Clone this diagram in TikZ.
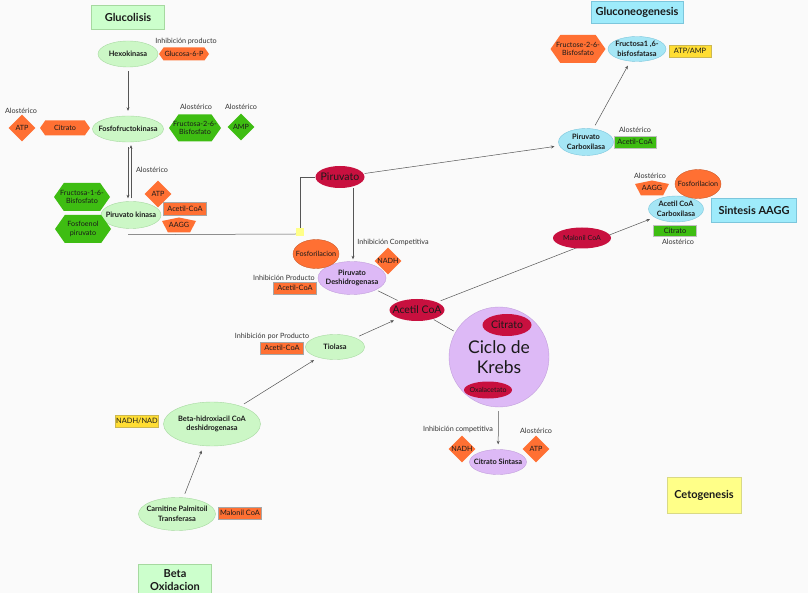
\documentclass[tikz,border=0pt]{standalone}
\usepackage{fontspec}
\setmainfont{Lato}
\usetikzlibrary{shapes.geometric,shapes.symbols,arrows.meta}

\definecolor{fondo}{HTML}{FAFAFA}
\definecolor{verdef}{HTML}{CCF7C6}
\definecolor{verdeb}{HTML}{A6D9A0}
\definecolor{azulf}{HTML}{A5E6F5}
\definecolor{azulb}{HTML}{7CC6DC}
\definecolor{moradof}{HTML}{DDB9F6}
\definecolor{moradob}{HTML}{C29FDC}
\definecolor{carmin}{HTML}{C8103F}
\definecolor{naranja}{HTML}{FF7033}
\definecolor{verdeo}{HTML}{3EBD12}
\definecolor{amarillo}{HTML}{FFDD33}
\definecolor{amarillop}{HTML}{FFFF88}
\definecolor{titverde}{HTML}{CCFFCC}
\definecolor{titazul}{HTML}{9EEBFB}
\definecolor{linea}{HTML}{555555}
\definecolor{texto}{HTML}{1A1A1A}
\definecolor{gris}{HTML}{333333}

\begin{document}
\begin{tikzpicture}[x=1pt,y=-1pt,
  every node/.style={inner sep=0pt,text=texto},
  ajuste/.style={inner sep=-30pt},
  enz/.style 2 args={ellipse,ajuste,minimum width=#1pt,minimum height=#2pt,align=center,font=\fontsize{7.4}{9.5}\selectfont\bfseries},
  enzg/.style={draw=verdeb,fill=verdef},
  enzb/.style={draw=azulb,fill=azulf},
  enzp/.style={draw=moradob,fill=moradof},
  mol/.style 2 args={ellipse,ajuste,fill=carmin,minimum width=#1pt,minimum height=#2pt,font=\fontsize{10.5}{12}\selectfont},
  fosf/.style={ellipse,ajuste,fill=naranja,draw=naranja!80!black,minimum width=46pt,minimum height=29pt,font=\fontsize{7.2}{8}\selectfont},
  hexa/.style 2 args={signal,ajuste,signal to=west and east,signal pointer angle=110,minimum width=#1pt,minimum height=#2pt,align=center,font=\fontsize{7.2}{8.5}\selectfont},
  rombo/.style={diamond,ajuste,aspect=1,minimum width=27pt,minimum height=27pt,font=\fontsize{7.2}{8}\selectfont},
  caja/.style 2 args={rectangle,minimum width=#1pt,minimum height=#2pt,font=\fontsize{7.4}{8}\selectfont},
  pent/.style={minimum width=34pt,minimum height=15pt,font=\fontsize{7.2}{8}\selectfont,
    path picture={\fill[naranja] (path picture bounding box.north) -- ([yshift=4pt]path picture bounding box.east)
      -- ([xshift=-6pt]path picture bounding box.south east) -- ([xshift=6pt]path picture bounding box.south west)
      -- ([yshift=4pt]path picture bounding box.west) -- cycle;}},
  titulo/.style 2 args={rectangle,minimum width=#1pt,minimum height=#2pt,align=center,font=\fontsize{11}{12.5}\selectfont\bfseries},
  lab/.style={font=\fontsize{7.2}{8}\selectfont,text=gris},
  link/.style={draw=linea,line width=0.5pt,shorten <=4pt,shorten >=5pt},
  arr/.style={link,-{Stealth[length=3.5pt,width=3pt]}}]
\useasboundingbox[fill=fondo] (0,0) rectangle (808,593);

\node[titulo={73}{24},fill=titverde,draw=verdeb] (tglu) at (128,17) {Glucolisis};
\node[titulo={92}{22},fill=titazul,draw=azulb] (tgneo) at (637,12) {Gluconeogenesis};
\node[titulo={85}{24},fill=titazul,draw=azulb] (taagg) at (754,210) {Sintesis AAGG};
\node[titulo={74}{36},fill=amarillop,draw=amarillop!70!gray] (tceto) at (704,495) {Cetogenesis};
\node[titulo={73}{32},fill=titverde,draw=verdeb] (tbeta) at (175,580) {Beta\\Oxidacion};

\node[enz={60}{26},enzg] (hexo) at (128,54) {Hexokinasa};
\node[enz={71}{26},enzg] (pfk) at (128,129) {Fosfofructokinasa};
\node[enz={60}{27},enzg] (pk) at (131,215) {Piruvato kinasa};
\node[enz={58}{25},enzb] (fbp) at (637,49) {Fructosa1 ,6-\\bisfosfatasa};
\node[enz={55}{27},enzb] (pcarb) at (586,142) {Piruvato\\Carboxilasa};
\node[enz={55}{26},enzb] (accarb) at (676,209) {Acetil CoA\\Carboxilasa};
\node[enz={68}{33},enzp] (pdh) at (352,278) {Piruvato\\Deshidrogenasa};
\node[enz={57}{25},enzp] (csint) at (498,462) {Citrato Sintasa};
\node[enz={59}{25},enzg] (tiol) at (335,347) {Tiolasa};
\node[enz={97}{44},enzg] (bhad) at (212,424) {Beta-hidroxiacil CoA\\deshidrogenasa};
\node[enz={77}{33},enzg] (cpt) at (177,514) {Carnitine Palmitoil\\Transferasa};
\node[circle,ajuste,enzp,minimum size=100pt,align=center,font=\fontsize{17.5}{20}\selectfont] (krebs) at (499,357) {Ciclo de\\Krebs};

\node[mol={49}{22}] (piru) at (340,177) {Piruvato};
\node[mol={55}{22}] (acoa) at (417,310) {Acetil CoA};
\node[mol={49}{22}] (citr) at (507,325) {Citrato};
\node[mol={48}{17},font=\fontsize{7}{8}\selectfont] (oxal) at (488,390) {Oxalacetato};
\node[fosf] (fos1) at (698,184) {Fosforilacion};
\node[fosf] (fos2) at (316,254) {Fosforilacion};

\node[hexa={50}{13},fill=naranja] (g6p) at (184,54) {Glucosa-6-P};
\node[hexa={50}{15},fill=naranja] (citr1) at (65,128) {Citrato};
\node[hexa={52}{27},fill=verdeo] (f26b) at (195,128) {Fructosa-2-6-\\Bisfosfato};
\node[hexa={56}{28},fill=verdeo] (f16b) at (82,197) {Fructosa-1-6-\\Bisfosfato};
\node[hexa={56}{28},fill=verdeo] (pep) at (83,229) {Fosfoenol\\piruvato};
\node[hexa={55}{28},fill=naranja] (f26bn) at (578,49) {Fructose-2-6-\\Bisfosfato};

\node[rombo,fill=naranja] (atp1) at (22,128) {ATP};
\node[rombo,fill=verdeo] (amp) at (241,127) {AMP};
\node[rombo,fill=naranja] (atp2) at (158,194) {ATP};
\node[rombo,fill=naranja] (nadh1) at (388,261) {NADH};
\node[rombo,fill=naranja] (nadh2) at (462,449) {NADH};
\node[rombo,fill=naranja] (atp3) at (536,449) {ATP};
\node[pent] (aagg1) at (179,225) {AAGG};
\node[pent] (aagg2) at (652,188) {AAGG};

\node[caja={43}{13},fill=naranja,draw=gray!70] (acoa1) at (185,209) {Acetil-CoA};
\node[caja={43}{12},fill=naranja,draw=gray!70] (acoa2) at (295,288) {Acetil-CoA};
\node[caja={43}{12},fill=naranja,draw=gray!70] (acoa3) at (282,348) {Acetil-CoA};
\node[caja={43}{12},fill=naranja,draw=gray!70] (malcoa) at (240,513) {Malonil CoA};
\node[caja={42}{12},fill=verdeo,draw=gray!50] (acoa4) at (635,142) {Acetil-CoA};
\node[caja={43}{11},fill=verdeo,draw=gray!50] (citr2) at (675,231) {Citrato};
\node[caja={42}{12},fill=amarillo,draw=amarillo!60!gray] (atpamp) at (690,51) {ATP/AMP};
\node[caja={43}{12},fill=amarillo,draw=amarillo!60!gray] (nadnad) at (137,421) {NADH/NAD};
\node[caja={8}{8},fill=amarillop] (flag) at (300,232) {};

\node[lab] (l1) at (186,41) {Inhibición producto};
\node[lab] (l2) at (21,111) {Alostérico};
\node[lab] (l3) at (196,107) {Alostérico};
\node[lab] (l4) at (241,107) {Alostérico};
\node[lab] (l5) at (152,170) {Alostérico};
\node[lab] (l6) at (393,242) {Inhibición Competitiva};
\node[lab] (l7) at (284,278) {Inhibición Producto};
\node[lab] (l8) at (272,336) {Inhibición por Producto};
\node[lab] (l9) at (458,429) {Inhibición competitiva};
\node[lab] (l10) at (536,431) {Alostérico};
\node[lab] (l11) at (635,130) {Alostérico};
\node[lab] (l12) at (650,176) {Alostérico};
\node[lab] (l13) at (678,242) {Alostérico};

\draw[arr] (hexo) -- (pfk);
\draw[arr,shorten <=5pt,shorten >=3pt] (pfk.south) -- (pfk.south |- pk.north);
\draw[arr,shorten <=3pt,shorten >=3pt] ([xshift=3pt]pfk.south |- pk.north) -- ([xshift=3pt]pfk.south);
\draw[link,shorten <=0pt,shorten >=0pt] ([xshift=-3pt,yshift=-6pt]pk.south) -- ([yshift=-2pt]flag.west);
\draw[link,shorten <=0pt,shorten >=0pt] (flag.north) |- (piru.west);
\draw[arr,shorten <=0pt,shorten >=2pt] ([xshift=13pt]piru.south) -- ([xshift=13pt]piru.south |- pdh.north);
\draw[arr,shorten <=1pt] (piru) -- (pcarb);
\draw[arr] (pcarb) -- (fbp);
\draw[link,shorten <=2pt,shorten >=2pt] (pdh) -- (acoa);
\draw[arr] (acoa) -- (accarb);
\draw[link,shorten <=1pt,shorten >=2pt] (acoa) -- (krebs);
\draw[arr] (tiol) -- (acoa);
\draw[arr] (bhad) -- (tiol);
\draw[arr] (cpt) -- (bhad);
\draw[arr] (krebs) -- (csint);

\node[mol={58}{21},font=\fontsize{7}{8}\selectfont] (malo) at (582,238) {Malonil CoA};
\end{tikzpicture}
\end{document}
